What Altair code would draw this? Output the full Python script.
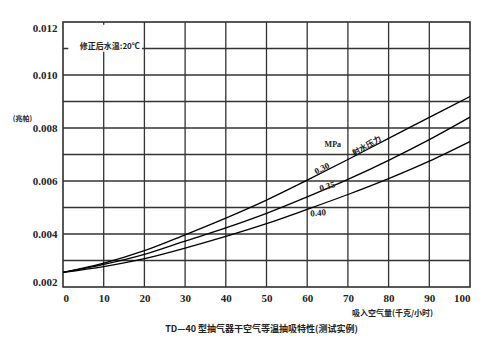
import altair as alt
import pandas as pd

# Air intake (kg/h)
air_flow = [0, 10, 20, 30, 40, 50, 60, 70, 80, 90, 100]
# Suction pressure (MPa) for each working-water pressure
p_030 = [0.00255, 0.0029, 0.00337, 0.00397, 0.0046, 0.00528, 0.00603, 0.00681, 0.00761, 0.0084, 0.00919]
p_035 = [0.00255, 0.00285, 0.00323, 0.00373, 0.00423, 0.00478, 0.0054, 0.00606, 0.00678, 0.00756, 0.00841]
p_040 = [0.00255, 0.00277, 0.00307, 0.00347, 0.00391, 0.00439, 0.00493, 0.00549, 0.00609, 0.00675, 0.00749]
series_names = ["0.30", "0.35", "0.40"]
x_grid = list(range(10, 100, 10))
y_grid = [round(0.003 + 0.001 * i, 3) for i in range(9)]
y_ticks = [round(0.002 + 0.002 * i, 3) for i in range(6)]
x_min, x_max = 0, 100
y_min, y_max = 0.002, 0.012

rows = []
for name, vals in zip(series_names, [p_030, p_035, p_040]):
    for x, v in zip(air_flow, vals):
        rows.append({"x": x, "y": v, "s": name})
df = pd.DataFrame(rows)

FONT_NUM = "Liberation Serif"
FONT_CJK = "Noto Sans CJK SC"
GRID = "#333333"

x_scale = alt.Scale(domain=[x_min, x_max], nice=False)
y_scale = alt.Scale(domain=[y_min, y_max], nice=False, zero=False)

# all grid lines in one rule layer: vertical and horizontal segments
grid_rows = [{"gx0": g, "gx1": g, "gy0": y_min, "gy1": y_max} for g in x_grid]
grid_rows += [{"gx0": x_min, "gx1": x_max, "gy0": g, "gy1": g} for g in y_grid]
grid = alt.Chart(pd.DataFrame(grid_rows)).mark_rule(color=GRID, strokeWidth=1.3).encode(
    x=alt.X("gx0:Q", scale=x_scale), x2="gx1:Q",
    y=alt.Y("gy0:Q", scale=y_scale), y2="gy1:Q")

lines = alt.Chart(df).mark_line(color="black", strokeWidth=1.3, interpolate="monotone").encode(
    x=alt.X("x:Q", scale=x_scale,
            axis=alt.Axis(values=list(range(0, 101, 10)), grid=False, ticks=False, domain=False,
                          labelFlush=True, labelFont=FONT_NUM, labelFontWeight="bold",
                          labelFontSize=11, labelColor="#222", labelPadding=5,
                          title="吸入空气量(千克/小时)", titleFont=FONT_CJK,
                          titleFontSize=8, titleFontWeight="bold", titleColor="#222",
                          titleX=329, titleY=26, titleAlign="center", titleBaseline="middle")),
    y=alt.Y("y:Q", scale=y_scale,
            axis=alt.Axis(values=y_ticks, grid=False, ticks=False, domain=False, labelFlush=True,
                          format=".3f",
                          labelFont=FONT_NUM, labelFontWeight="bold", labelFontSize=11,
                          labelColor="#222", labelPadding=6,
                          title="(兆帕)", titleAngle=0, titleX=-41, titleY=96,
                          titleFont=FONT_CJK, titleFontSize=7, titleFontWeight="bold",
                          titleColor="#222", titleAlign="center", titleBaseline="middle")),
    detail="s:N",
)

# white box behind the water temperature note
note_box = alt.Chart(pd.DataFrame({"bx": [1.3], "bx2": [19.4], "by": [0.01088], "by2": [0.0119]})).mark_rect(
    color="white").encode(x=alt.X("bx:Q", scale=x_scale), x2="bx2:Q",
                          y=alt.Y("by:Q", scale=y_scale), y2="by2:Q")
note = alt.Chart(pd.DataFrame({"tx": [11.5], "ty": [0.01107], "t": ["修正后水温:20℃"]})).mark_text(
    font=FONT_CJK, fontSize=8, fontWeight="bold", color="#222").encode(
    x=alt.X("tx:Q", scale=x_scale), y=alt.Y("ty:Q", scale=y_scale), text="t:N")

labels_df = pd.DataFrame({
    "tx": [63.6, 64.9, 62.7],
    "ty": [0.00648, 0.0058, 0.0048],
    "t": series_names,
    "a": [333, 345, 355],
})
curve_labels = alt.Chart(labels_df).mark_text(
    font=FONT_NUM, fontSize=9, fontWeight="bold", color="#222").encode(
    x=alt.X("tx:Q", scale=x_scale), y=alt.Y("ty:Q", scale=y_scale), text="t:N",
    angle=alt.Angle("a:Q", scale=None))

mpa = alt.Chart(pd.DataFrame({"tx": [66.3], "ty": [0.00735], "t": ["MPa"]})).mark_text(
    font=FONT_NUM, fontSize=8, fontWeight="bold", color="#222").encode(
    x=alt.X("tx:Q", scale=x_scale), y=alt.Y("ty:Q", scale=y_scale), text="t:N")
water = alt.Chart(pd.DataFrame({"tx": [74.7], "ty": [0.0073], "t": ["射水压力"]})).mark_text(
    font=FONT_CJK, fontSize=8, fontWeight="bold", color="#222", angle=330).encode(
    x=alt.X("tx:Q", scale=x_scale), y=alt.Y("ty:Q", scale=y_scale), text="t:N")

chart = alt.layer(grid, lines, note_box, note, curve_labels, mpa, water).properties(
    width=407, height=265,
    autosize=alt.AutoSizeParams(type="none"),
    padding={"left": 63, "top": 22, "right": 26, "bottom": 65},
    background="white",
    title=alt.TitleParams("TD—40 型抽气器干空气等温抽吸特性(测试实例)", orient="bottom",
                          anchor="middle", font=FONT_CJK, fontSize=9, fontWeight="bold",
                          color="#222", offset=8, dx=-5),
).configure_view(stroke="#222", strokeWidth=1.5)

chart.save("out.html", embed_options={"renderer": "svg", "actions": False})
